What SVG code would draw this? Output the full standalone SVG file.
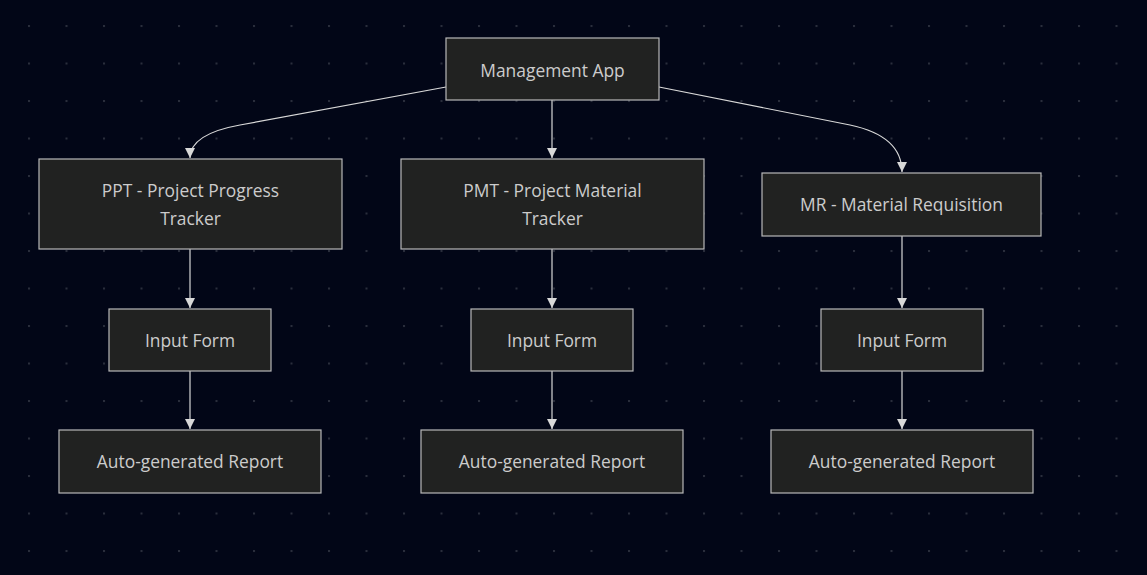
<svg xmlns="http://www.w3.org/2000/svg" width="1147" height="575" viewBox="0 0 1147 575">
<defs>
<pattern id="dots" x="28" y="25" width="37.5" height="37.5" patternUnits="userSpaceOnUse">
<rect x="0" y="0" width="2" height="2" fill="#2a2e3c"/>
</pattern>
<marker id="arrow" viewBox="0 0 10 10" refX="10" refY="5" markerWidth="10" markerHeight="10" markerUnits="userSpaceOnUse" orient="auto">
<path d="M0,0 L10,5 L0,10 z" fill="#d8d8d8"/>
</marker>
<style>
.node rect{fill:#212221;stroke:#b8b8b8;stroke-width:1.2}
.node text{fill:#cccccc;font-family:"Open Sans","DejaVu Sans",sans-serif;font-size:17.4px;font-weight:500;text-anchor:middle;dominant-baseline:central}
.edges path{fill:none;stroke:#d8d8d8;stroke-width:1.2;marker-end:url(#arrow)}
</style>
</defs>
<rect width="1147" height="575" fill="#020617"/>
<rect width="1147" height="575" fill="url(#dots)"/>
<g class="edges" id="connectors">
<path d="M446,87 L240,125 Q190,134 190,158"/>
<path d="M552,100 L552,158"/>
<path d="M659,87 L850,125 Q902,136 902,172"/>
<path d="M190,249 L190,308"/>
<path d="M552,249 L552,308"/>
<path d="M902,236 L902,308"/>
<path d="M190,371 L190,429"/>
<path d="M552,371 L552,429"/>
<path d="M902,371 L902,429"/>
</g>
<g class="node" id="app"><rect x="446" y="38" width="213" height="62"/><text x="552.5" y="70">Management App</text></g>
<g class="node" id="ppt"><rect x="39" y="159" width="303" height="90"/><text x="190.5" y="190">PPT - Project Progress</text><text x="190.5" y="218">Tracker</text></g>
<g class="node" id="pmt"><rect x="401" y="159" width="303" height="90"/><text x="552.5" y="190">PMT - Project Material</text><text x="552.5" y="218">Tracker</text></g>
<g class="node" id="mr"><rect x="762" y="173" width="279" height="63"/><text x="901.5" y="204">MR - Material Requisition</text></g>
<g class="node" id="form1"><rect x="109" y="309" width="162" height="62"/><text x="190" y="340">Input Form</text></g>
<g class="node" id="form2"><rect x="471" y="309" width="162" height="62"/><text x="552" y="340">Input Form</text></g>
<g class="node" id="form3"><rect x="821" y="309" width="162" height="62"/><text x="902" y="340">Input Form</text></g>
<g class="node" id="report1"><rect x="59" y="430" width="262" height="63"/><text x="190" y="461">Auto-generated Report</text></g>
<g class="node" id="report2"><rect x="421" y="430" width="262" height="63"/><text x="552" y="461">Auto-generated Report</text></g>
<g class="node" id="report3"><rect x="771" y="430" width="262" height="63"/><text x="902" y="461">Auto-generated Report</text></g>
</svg>
